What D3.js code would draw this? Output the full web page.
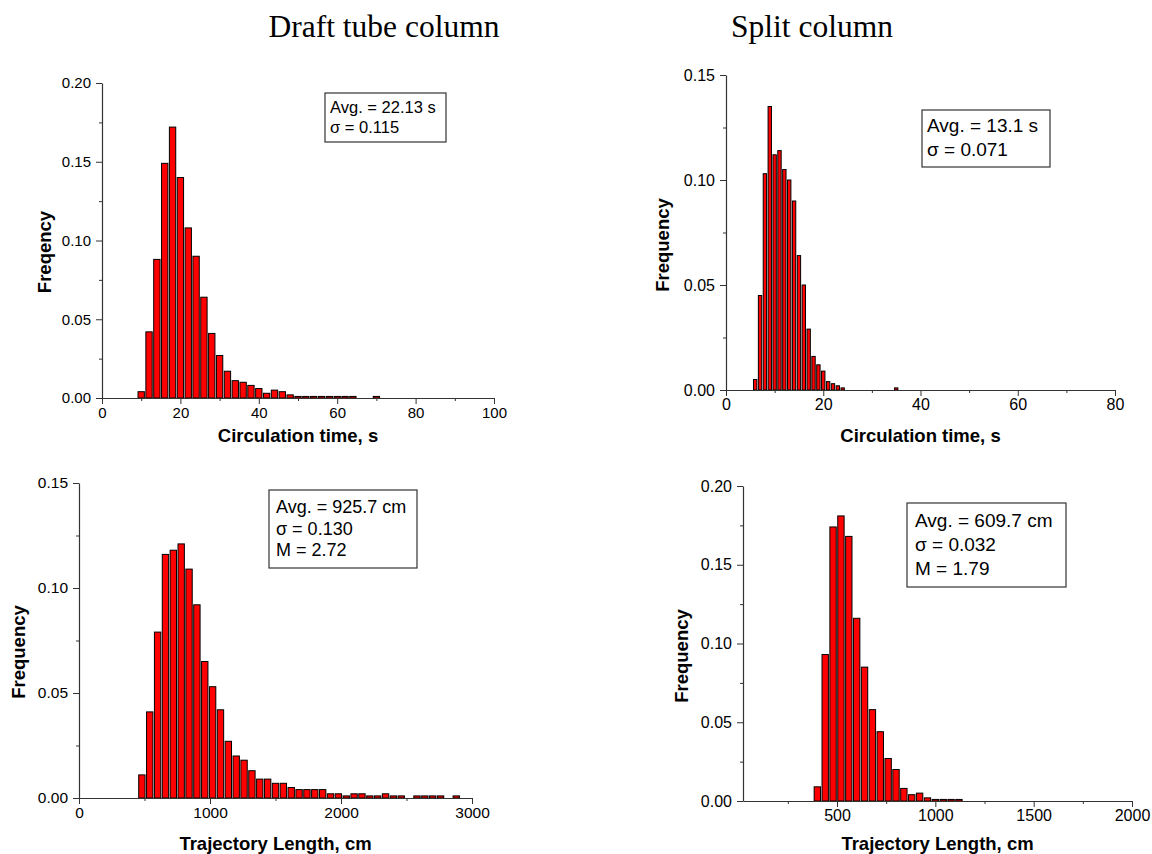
<!DOCTYPE html>
<html>
<head>
<meta charset="utf-8">
<script src="https://cdn.jsdelivr.net/npm/d3@7"></script>
<style>
body { margin: 0; background: #fff; }
text { font-family: "Liberation Sans", Arial, sans-serif; }
</style>
</head>
<body>
<div id="chart"></div>
<script>
// Bin centres and frequencies

// Draft tube column - circulation time (2 s bins)
const draftTimeBins = [10, 12, 14, 16, 18, 20, 22, 24, 26, 28, 30, 32, 34, 36, 38, 40, 42, 44, 46, 48,
    50, 52, 54, 56, 58, 60, 62, 64, 70];
const draftTimeFreq = [0.004, 0.042, 0.088, 0.149, 0.172, 0.140, 0.108, 0.090, 0.064, 0.041, 0.027, 0.017,
    0.011, 0.010, 0.008, 0.006, 0.003, 0.005, 0.004, 0.002,
    0.001, 0.001, 0.001, 0.001, 0.001, 0.001, 0.001, 0.001, 0.001];

// Split column - circulation time (1 s bins)
const splitTimeBins = [6, 7, 8, 9, 10, 11, 12, 13, 14, 15, 16, 17, 18, 19, 20, 21, 22, 23, 24, 35];
const splitTimeFreq = [0.005, 0.045, 0.103, 0.135, 0.112, 0.114, 0.105, 0.100, 0.090, 0.064, 0.050, 0.029,
    0.016, 0.012, 0.009, 0.004, 0.003, 0.002, 0.001, 0.001];

// Draft tube column - trajectory length (60 cm bins)
const draftLenBins = [480, 540, 600, 660, 720, 780, 840, 900, 960, 1020, 1080, 1140, 1200, 1260, 1320, 1380,
    1440, 1500, 1560, 1620, 1680, 1740, 1800, 1860, 1920, 1980, 2040, 2100, 2160, 2220, 2280, 2340,
    2400, 2460, 2580, 2640, 2700, 2760, 2880];
const draftLenFreq = [0.011, 0.041, 0.079, 0.116, 0.118, 0.121, 0.109, 0.092, 0.065, 0.053, 0.042, 0.027,
    0.020, 0.018, 0.013, 0.009, 0.009, 0.007, 0.007, 0.005, 0.004, 0.004, 0.004, 0.004, 0.002, 0.002,
    0.001, 0.002, 0.002, 0.001, 0.001, 0.002, 0.001, 0.001, 0.001, 0.001, 0.001, 0.001, 0.001];

// Split column - trajectory length (40 cm bins)
const splitLenBins = [400, 440, 480, 520, 560, 600, 640, 680, 720, 760, 800, 840, 880, 920, 960, 1000,
    1040, 1080, 1120];
const splitLenFreq = [0.009, 0.093, 0.174, 0.181, 0.168, 0.116, 0.085, 0.058, 0.044, 0.027, 0.020, 0.008,
    0.004, 0.005, 0.002, 0.001, 0.001, 0.001, 0.001];

// tick values
const draftTimeTicks = [0, 20, 40, 60, 80, 100];
const draftTimeMinor = [10, 30, 50, 70, 90];
const splitTimeTicks = [0, 20, 40, 60, 80];
const splitTimeMinor = [10, 30, 50, 70];
const draftLenTicks = [0, 1000, 2000, 3000];
const draftLenMinor = [500, 1500, 2500];
const splitLenTicks = [500, 1000, 1500, 2000];
const splitLenMinor = [250, 750, 1250, 1750];
const freqTicks20 = [0, 0.05, 0.10, 0.15, 0.20];
const freqMinor20 = [0.025, 0.075, 0.125, 0.175];
const freqTicks15 = [0, 0.05, 0.10, 0.15];
const freqMinor15 = [0.025, 0.075, 0.125];

const columnTitles = ["Draft tube column", "Split column"];
const draftTimeStats = ["Avg. = 22.13 s", "\u03c3 = 0.115"];
const splitTimeStats = ["Avg. = 13.1 s", "\u03c3 = 0.071"];
const draftLenStats = ["Avg. = 925.7 cm", "\u03c3 = 0.130", "M = 2.72"];
const splitLenStats = ["Avg. = 609.7 cm", "\u03c3 = 0.032", "M = 1.79"];

const width = 1152;
const height = 854;

const svg = d3.select("#chart")
    .append("svg")
    .attr("width", width)
    .attr("height", height);

// column titles
svg.selectAll(".col-title")
    .data(columnTitles)
    .enter()
    .append("text")
    .attr("class", "col-title")
    .attr("x", (d, i) => [384, 812][i])
    .attr("y", 37)
    .attr("text-anchor", "middle")
    .style("font-family", "'Liberation Serif', 'Times New Roman', serif")
    .style("font-size", "31.5px")
    .text(d => d);

const panels = [
    {
        bins: draftTimeBins, freq: draftTimeFreq, binWidth: 2,
        left: 102, right: 494, top: 83, bottom: 398,
        xDomain: [0, 100], yMax: 0.20,
        xTicks: draftTimeTicks, xMinor: draftTimeMinor, yTicks: freqTicks20, yMinor: freqMinor20,
        xTitle: "Circulation time, s", xTitleY: 442,
        yTitle: "Freqency", yTitleX: 51, yTitleY: 252,
        tickFont: 15,
        stats: draftTimeStats, box: [325, 93, 121, 49], boxFont: 16.5, boxLine: 19.5, boxText: [330, 113]
    },
    {
        bins: splitTimeBins, freq: splitTimeFreq, binWidth: 1,
        left: 726, right: 1115, top: 75, bottom: 390,
        xDomain: [0, 80], yMax: 0.15,
        xTicks: splitTimeTicks, xMinor: splitTimeMinor, yTicks: freqTicks15, yMinor: freqMinor15,
        xTitle: "Circulation time, s", xTitleY: 442,
        yTitle: "Frequency", yTitleX: 669, yTitleY: 245,
        tickFont: 16,
        stats: splitTimeStats, box: [922, 110, 128, 57], boxFont: 19, boxLine: 24, boxText: [927, 132]
    },
    {
        bins: draftLenBins, freq: draftLenFreq, binWidth: 60,
        left: 79, right: 472, top: 483, bottom: 798,
        xDomain: [0, 3000], yMax: 0.15,
        xTicks: draftLenTicks, xMinor: draftLenMinor, yTicks: freqTicks15, yMinor: freqMinor15,
        xTitle: "Trajectory Length, cm", xTitleY: 850,
        yTitle: "Frequency", yTitleX: 25, yTitleY: 652,
        tickFont: 15.5,
        stats: draftLenStats, box: [269, 490, 148, 78], boxFont: 18, boxLine: 21.7, boxText: [276, 513]
    },
    {
        bins: splitLenBins, freq: splitLenFreq, binWidth: 40,
        left: 743, right: 1132, top: 486, bottom: 801,
        xDomain: [22, 2000], yMax: 0.20,
        xTicks: splitLenTicks, xMinor: splitLenMinor, yTicks: freqTicks20, yMinor: freqMinor20,
        xTitle: "Trajectory Length, cm", xTitleY: 850,
        yTitle: "Frequency", yTitleX: 688, yTitleY: 656,
        tickFont: 16,
        stats: splitLenStats, box: [907, 503, 159, 84], boxFont: 19, boxLine: 24, boxText: [915, 527]
    }
];

panels.forEach(drawPanel);

function drawPanel(p) {
    const g = svg.append("g");

    const x = d3.scaleLinear().domain(p.xDomain).range([p.left, p.right]);
    const y = d3.scaleLinear().domain([0, p.yMax]).range([p.bottom, p.top]);

    const data = p.bins.map((b, i) => ({ bin: b, value: p.freq[i] }));
    const binPx = x(p.binWidth) - x(0);

    // bars
    g.selectAll(".bar")
        .data(data)
        .enter()
        .append("rect")
        .attr("class", "bar")
        .attr("x", d => x(d.bin) - binPx / 2 + 0.75)
        .attr("y", d => y(d.value))
        .attr("width", Math.max(binPx - 1.5, 1))
        .attr("height", d => y(0) - y(d.value))
        .attr("fill", "#ff0000")
        .attr("stroke", "#000")
        .attr("stroke-width", 1);

    // x axis
    g.append("g")
        .attr("transform", `translate(0,${p.bottom})`)
        .call(d3.axisBottom(x).tickValues(p.xTicks).tickSize(6).tickSizeOuter(0).tickPadding(3)
            .tickFormat(d3.format("d")));
    g.append("g")
        .attr("transform", `translate(0,${p.bottom})`)
        .call(d3.axisBottom(x).tickValues(p.xMinor).tickSize(3).tickSizeOuter(0).tickFormat(""))
        .call(a => a.select(".domain").remove());

    // y axis
    g.append("g")
        .attr("transform", `translate(${p.left},0)`)
        .call(d3.axisLeft(y).tickValues(p.yTicks).tickSize(6).tickSizeOuter(0).tickPadding(5)
            .tickFormat(d3.format(".2f")));
    g.append("g")
        .attr("transform", `translate(${p.left},0)`)
        .call(d3.axisLeft(y).tickValues(p.yMinor).tickSize(3).tickSizeOuter(0).tickFormat(""))
        .call(a => a.select(".domain").remove());

    g.selectAll(".domain").attr("stroke", "#333").attr("stroke-width", 1.2);
    g.selectAll(".tick line").attr("stroke", "#333");
    g.selectAll(".tick text")
        .attr("fill", "#000")
        .style("font-family", "'Liberation Sans', Arial, sans-serif")
        .style("font-size", p.tickFont + "px");

    // axis titles
    g.append("text")
        .attr("x", (p.left + p.right) / 2)
        .attr("y", p.xTitleY)
        .attr("text-anchor", "middle")
        .style("font-size", "18.5px")
        .style("font-weight", "bold")
        .text(p.xTitle);

    g.append("text")
        .attr("transform", `translate(${p.yTitleX},${p.yTitleY}) rotate(-90)`)
        .attr("text-anchor", "middle")
        .style("font-size", "18.5px")
        .style("font-weight", "bold")
        .text(p.yTitle);

    // stats box
    g.append("rect")
        .attr("x", p.box[0])
        .attr("y", p.box[1])
        .attr("width", p.box[2])
        .attr("height", p.box[3])
        .attr("fill", "none")
        .attr("stroke", "#333")
        .attr("stroke-width", 1.2);

    g.selectAll(".stat")
        .data(p.stats)
        .enter()
        .append("text")
        .attr("class", "stat")
        .attr("x", p.boxText[0])
        .attr("y", (d, i) => p.boxText[1] + i * p.boxLine)
        .style("font-size", p.boxFont + "px")
        .text(d => d);
}
</script>
</body>
</html>
